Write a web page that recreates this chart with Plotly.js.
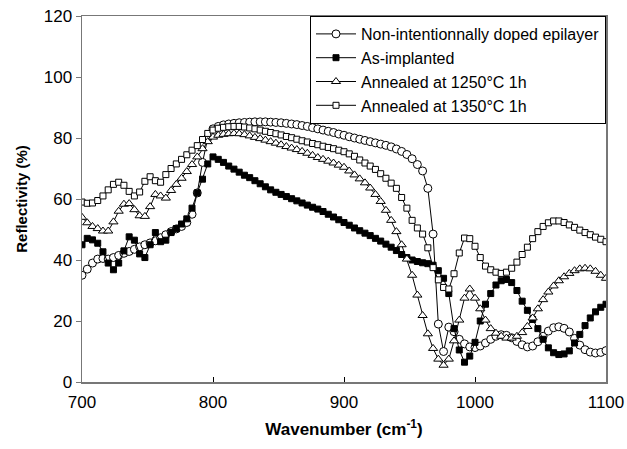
<!DOCTYPE html>
<html>
<head>
<meta charset="utf-8">
<script src="https://cdn.plot.ly/plotly-3.0.1.min.js"></script>
<style>html,body{margin:0;padding:0;background:#fff}#chart{width:627px;height:449px}</style>
</head>
<body>
<div id="chart"></div>
<script>
const wavenumber = [700,704,708,712,716,720,724,728,732,736,740,744,748,752,756,760,764,768,772,776,780,784,788,792,796,800,804,808,812,816,820,824,828,832,836,840,844,848,852,856,860,864,868,872,876,880,884,888,892,896,900,904,908,912,916,920,924,928,932,936,940,944,948,952,956,960,964,968,972,976,980,984,988,992,996,1000,1004,1008,1012,1016,1020,1024,1028,1032,1036,1040,1044,1048,1052,1056,1060,1064,1068,1072,1076,1080,1084,1088,1092,1096,1100];

const nidEpilayer = [35.0,37.0,39.0,40.3,40.5,40.3,40.8,41.5,42.2,42.8,43.5,44.3,45.0,45.6,46.3,47.3,48.3,49.3,50.2,51.0,52.3,55.0,62.0,72.0,80.0,83.0,83.8,84.3,84.6,84.8,85.0,85.1,85.2,85.3,85.3,85.3,85.2,85.1,85.0,84.8,84.6,84.4,84.1,83.8,83.4,83.0,82.6,82.2,81.8,81.3,80.9,80.4,80.0,79.6,79.2,78.8,78.4,78.0,77.6,77.1,76.4,75.6,74.6,73.2,71.3,69.2,63.5,48.5,19.0,10.0,18.0,16.5,14.0,12.5,11.5,11.3,11.8,12.8,14.0,15.0,15.5,15.3,14.5,13.3,12.2,11.5,11.8,13.2,15.0,16.7,17.8,18.1,17.6,16.4,14.3,12.1,10.6,9.8,9.5,9.7,10.3];

const asImplanted = [45.0,47.1,46.6,45.5,42.7,39.0,36.8,39.0,43.0,47.6,46.5,42.0,40.8,45.0,49.0,46.0,46.5,49.0,50.3,51.8,53.5,57.0,62.0,66.5,71.5,73.8,73.0,72.0,70.8,69.8,68.8,67.8,67.0,66.0,65.0,64.0,63.0,62.2,61.5,60.8,60.1,59.4,58.7,58.0,57.3,56.7,55.9,55.0,54.1,53.2,52.3,51.4,50.5,49.6,48.8,48.0,47.1,46.2,45.2,44.2,43.1,41.8,40.8,40.0,39.5,39.1,38.8,38.3,36.5,34.0,29.0,17.5,10.5,6.5,8.5,13.0,20.0,25.5,29.0,31.8,33.2,33.6,32.6,30.0,26.5,23.5,20.5,17.5,14.0,11.2,9.6,9.0,9.2,10.2,12.8,15.6,18.5,21.0,23.0,24.5,25.5];

const annealed1250 = [54.0,52.2,51.0,50.3,49.5,49.5,52.5,56.0,58.3,58.5,56.5,54.5,54.3,57.5,61.5,61.0,60.3,62.8,64.8,66.8,69.0,71.3,73.8,76.5,78.8,80.3,80.9,81.2,81.4,81.5,81.4,81.1,80.7,80.2,79.8,79.3,78.8,78.3,77.8,77.2,76.7,76.2,75.6,75.0,74.3,73.6,73.0,72.4,71.8,71.1,70.4,69.2,67.9,66.6,65.3,63.6,61.5,59.2,56.3,53.0,49.3,45.0,40.3,35.0,28.5,21.8,15.8,11.0,7.5,5.5,7.5,13.5,20.3,27.5,30.5,27.5,24.0,20.3,17.5,16.0,15.0,14.4,14.4,15.0,16.2,18.2,21.0,24.0,27.0,29.5,31.5,33.2,34.5,35.6,36.5,37.1,37.3,37.1,36.3,35.0,34.0];

const annealed1350 = [59.0,58.6,58.7,59.5,61.0,63.0,64.8,65.5,64.5,62.5,61.0,62.3,65.8,67.3,66.0,65.5,68.0,70.0,71.5,73.0,74.5,76.0,77.5,79.5,81.5,82.6,83.2,83.5,83.7,83.8,83.8,83.6,83.3,83.0,82.6,82.2,81.8,81.4,81.0,80.5,80.1,79.6,79.1,78.7,78.2,77.8,77.3,76.9,76.5,76.0,75.5,74.8,74.0,72.8,71.8,70.8,69.7,68.3,66.8,65.2,63.5,60.5,57.0,53.0,50.5,48.5,44.0,37.5,33.5,31.0,30.5,35.5,42.3,47.2,47.0,44.5,40.8,38.0,36.8,36.0,35.6,36.0,37.3,39.3,41.8,44.2,47.0,49.3,51.0,52.2,52.8,52.8,52.3,51.5,50.7,49.8,49.0,48.3,47.5,46.8,46.0];

const seriesNames = ["Non-intentionnally doped epilayer","As-implanted","Annealed at 1250°C 1h","Annealed at 1350°C 1h"];
const xTickVals = [700,800,900,1000,1100];
const yTickVals = [0,20,40,60,80,100,120];

const FONT = "Arial, 'Liberation Sans', Helvetica, sans-serif";

function tr(y, name, symbol, size, fill) {
  return {
    x: wavenumber, y: y, name: name, type: 'scatter', mode: 'lines+markers',
    line: {color: '#000', width: 1},
    marker: {symbol: symbol, size: size, color: fill, line: {color: '#000', width: 1}}
  };
}

const data = [
  tr(nidEpilayer, seriesNames[0], 'circle', 8, '#fff'),
  tr(asImplanted, seriesNames[1], 'square', 6, '#000'),
  tr(annealed1250, seriesNames[2], 'triangle-up', 8, '#fff'),
  tr(annealed1350, seriesNames[3], 'square', 6, '#fff')
];

const layout = {
  width: 627, height: 449,
  margin: {l: 82, r: 21, t: 16, b: 67, pad: 0},
  paper_bgcolor: '#fff', plot_bgcolor: '#fff',
  font: {family: FONT, size: 16, color: '#000'},
  showlegend: true,
  legend: {
    x: 1, xanchor: 'right', y: 1, yanchor: 'top',
    bgcolor: '#fff', bordercolor: '#000', borderwidth: 1,
    font: {family: FONT, size: 16, color: '#000'},
    itemwidth: 40,
    tracegroupgap: 0
  },
  xaxis: {
    range: [700, 1100], tickvals: xTickVals, ticktext: xTickVals.map(String),
    ticks: 'inside', ticklen: 5, tickcolor: '#000', tickwidth: 1,
    ticklabelstandoff: 4,
    showline: true, linecolor: '#777', linewidth: 1.5, mirror: true,
    showgrid: false, zeroline: false,
    tickfont: {family: FONT, size: 17, color: '#000'},
    title: {text: '<b>Wavenumber (cm<sup>-1</sup>)</b>', font: {family: FONT, size: 17, color: '#000'}, standoff: 12}
  },
  yaxis: {
    range: [0, 120], tickvals: yTickVals, ticktext: yTickVals.map(String),
    ticks: 'outside', ticklen: 5, tickcolor: '#777', tickwidth: 1,
    showline: true, linecolor: '#777', linewidth: 1.5, mirror: true,
    showgrid: false, zeroline: false,
    tickfont: {family: FONT, size: 17, color: '#000'},
    title: {text: '<b>Reflectivity (%)</b>', font: {family: FONT, size: 15, color: '#000'}, standoff: 12}
  }
};

Plotly.newPlot('chart', data, layout, {displayModeBar: false, staticPlot: true});
</script>
</body>
</html>
